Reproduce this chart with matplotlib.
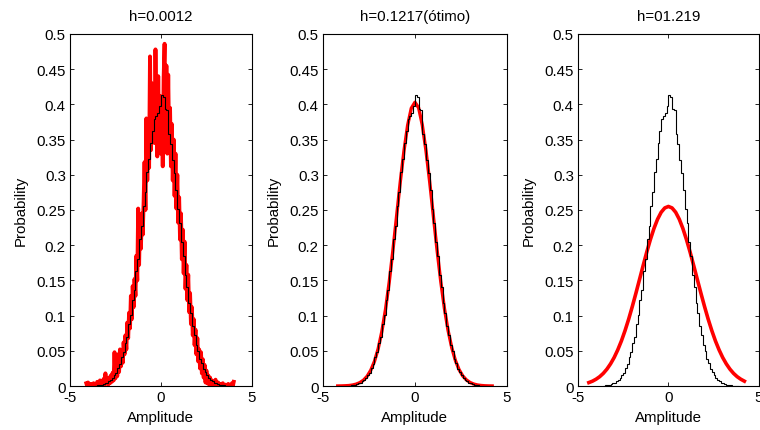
import numpy as np
import matplotlib
matplotlib.use('Agg')
import matplotlib.pyplot as plt

plt.rcParams['font.family'] = ['Liberation Sans', 'DejaVu Sans']
plt.rcParams['font.size'] = 10.8

titles = ['h=0.0012', 'h=0.1217(ótimo)', 'h=01.219']

# histogram of the samples (same in every panel), bins of 0.1 from -3.6 to 3.9
hist_edges = np.linspace(-3.6, 3.9, 76)
hist_vals = [0.0005, 0.001, 0.001, 0.002, 0.003, 0.004,
             0.005, 0.007, 0.009, 0.012, 0.016, 0.019, 0.026, 0.031, 0.041, 0.048,
             0.061, 0.070, 0.088, 0.101, 0.122, 0.137, 0.163, 0.180, 0.209, 0.227,
             0.256, 0.276, 0.304, 0.322, 0.345, 0.362, 0.379, 0.383, 0.387, 0.398,
             0.413, 0.410, 0.394, 0.392, 0.358, 0.343, 0.321, 0.302, 0.279, 0.251,
             0.231, 0.204, 0.184, 0.158, 0.141, 0.118, 0.104, 0.085, 0.073, 0.058,
             0.050, 0.038, 0.033, 0.024, 0.020, 0.015, 0.012, 0.009, 0.007, 0.005,
             0.004, 0.003, 0.002, 0.0015, 0.001, 0.0007, 0.0005, 0.0004, 0.0002]

# kde, h=0.0012 (x from -4.1 to 4.0, step 0.05)
kde_small = [0.004, 0.000, 0.005, 0.000, 0.000, 0.003, 0.000, 0.000, 0.004, 0.000,
             0.002, 0.000, 0.006, 0.000, 0.003, 0.008, 0.000, 0.005, 0.001, 0.010,
             0.002, 0.018, 0.004,
             0.009, 0.002, 0.012, 0.004, 0.015, 0.006, 0.019, 0.008, 0.048, 0.011,
             0.030, 0.014, 0.045, 0.020, 0.052, 0.028, 0.050, 0.033, 0.062, 0.045,
             0.072, 0.052, 0.090, 0.068, 0.104, 0.082, 0.128, 0.095, 0.142, 0.112,
             0.152, 0.128, 0.185, 0.150, 0.252, 0.172, 0.238, 0.195, 0.245, 0.215,
             0.262, 0.318, 0.250, 0.380, 0.292, 0.372, 0.310, 0.468, 0.335, 0.430,
             0.360, 0.415, 0.345, 0.478, 0.380, 0.326, 0.440, 0.352, 0.412, 0.330,
             0.395, 0.312, 0.438, 0.486, 0.362, 0.455, 0.330, 0.442, 0.345, 0.395,
             0.312, 0.372, 0.292, 0.350, 0.270, 0.330, 0.252, 0.300, 0.232, 0.268,
             0.208, 0.245, 0.180, 0.222, 0.160, 0.205, 0.138, 0.172, 0.122, 0.158,
             0.105, 0.132, 0.088, 0.112, 0.072, 0.095, 0.058, 0.080, 0.045, 0.068,
             0.035, 0.052, 0.025, 0.048, 0.018, 0.038, 0.012, 0.030, 0.005, 0.022,
             0.004, 0.015, 0.002, 0.012, 0.000, 0.008, 0.001, 0.006, 0.000, 0.009,
             0.002, 0.000, 0.005, 0.000, 0.003, 0.001, 0.000, 0.004, 0.000, 0.000,
             0.002, 0.000, 0.000, 0.003, 0.000, 0.000, 0.000, 0.004, 0.000, 0.006]

# kde, h=0.1217 (x from -4.2 to 4.2, step 0.2)
kde_opt = [0.0001, 0.0002, 0.0004, 0.0007, 0.0014, 0.0027, 0.0048, 0.0083, 0.0139, 0.0226,
           0.0352, 0.0530, 0.0775, 0.1090, 0.1475, 0.1925, 0.2410, 0.2895, 0.3335, 0.3700,
           0.3945, 0.4030, 0.3950, 0.3705, 0.3340, 0.2900, 0.2415, 0.1935, 0.1490, 0.1105,
           0.0790, 0.0545, 0.0362, 0.0232, 0.0143, 0.0086, 0.0050, 0.0028, 0.0015, 0.0008,
           0.0004, 0.0002, 0.0001]

# kde, h=1.219 (x from -4.4 to 4.2, step 0.2)
kde_big = [0.0049, 0.0069, 0.0097, 0.0133, 0.0180, 0.0240, 0.0315, 0.0405, 0.0514, 0.0640,
           0.0786, 0.0948, 0.1126, 0.1315, 0.1511, 0.1708, 0.1900, 0.2078, 0.2237, 0.2369,
           0.2468, 0.2529, 0.2550, 0.2529, 0.2468, 0.2369, 0.2237, 0.2078, 0.1900, 0.1708,
           0.1511, 0.1315, 0.1126, 0.0948, 0.0786, 0.0640, 0.0514, 0.0405, 0.0315, 0.0240,
           0.0180, 0.0133, 0.0097, 0.0069]

curves = [(np.linspace(-4.1, 4.0, len(kde_small)), kde_small),
          (np.linspace(-4.2, 4.2, len(kde_opt)), kde_opt),
          (np.linspace(-4.4, 4.2, len(kde_big)), kde_big)]
red_lw = [2.8, 2.4, 2.6]

fig = plt.figure(figsize=(7.6, 4.31), dpi=100)
lefts = [0.092, 0.425, 0.7605]
widths = [0.2395, 0.242, 0.238]

yt = np.arange(0, 0.501, 0.05)
ytl = ['0', '0.05', '0.1', '0.15', '0.2', '0.25', '0.3', '0.35', '0.4', '0.45', '0.5']

for i in range(3):
    ax = fig.add_axes([lefts[i], 0.102, widths[i], 0.817])
    xs, ys = curves[i]
    ax.plot(xs, ys, color='red', lw=red_lw[i], zorder=2)
    ax.stairs(hist_vals, hist_edges, color='black', lw=0.8, zorder=3)
    ax.set_xlim(-5, 5)
    ax.set_ylim(0, 0.5)
    ax.set_xticks([-5, 0, 5])
    ax.set_xticklabels(['-5', '0', '5'])
    ax.set_yticks(yt)
    ax.set_yticklabels(ytl)
    ax.tick_params(direction='in', length=3, width=0.6, top=True, right=True,
                   labelsize=10.8, pad=3)
    for s in ax.spines.values():
        s.set_linewidth(0.8)
    ax.set_xlabel('Amplitude', fontsize=10.8, labelpad=4)
    ax.set_ylabel('Probability', fontsize=10.8, labelpad=6)
    ax.set_title(titles[i], fontsize=10.8, pad=10)

fig.savefig('out.png', dpi=100)
